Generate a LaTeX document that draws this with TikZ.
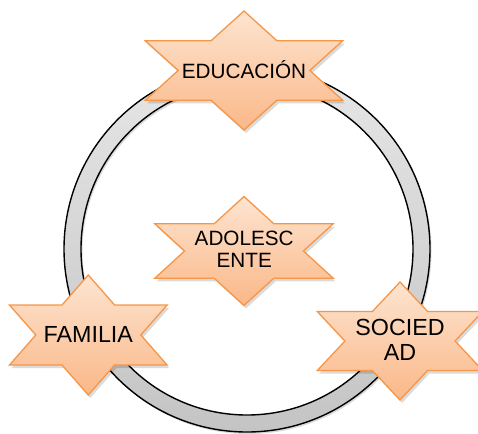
\documentclass[tikz,border=0pt]{standalone}
\usepackage{fontspec}
\setmainfont{Liberation Sans}
\definecolor{starline}{RGB}{247,150,70}
\definecolor{startop}{RGB}{253,228,208}
\definecolor{starbot}{RGB}{250,184,136}
\definecolor{ringtop}{RGB}{230,230,230}
\definecolor{ringbot}{RGB}{196,196,196}
\tikzset{
  starshape/.style={draw=starline, line width=1.3pt, line join=miter, top color=startop, bottom color=starbot},
  starshadow/.style={fill=black, opacity=0.14, shift={(2,3)}},
  smalltext/.style={font=\fontsize{20.7}{22}\selectfont, align=center, inner sep=0pt, text=black},
  bigtext/.style={font=\fontsize{23.3}{25}\selectfont, align=center, inner sep=0pt, text=black},
}
% #1 cx, #2 cy, #3 horizontal scale, #4 half height, #5 style
\newcommand\drawhexstar[5]{%
  \path[#5] (#1,{#2-#4}) -- ({#1+0.289*#3},{#2-0.5*#4}) -- ({#1+0.866*#3},{#2-0.5*#4})
    -- ({#1+0.577*#3},#2) -- ({#1+0.866*#3},{#2+0.5*#4}) -- ({#1+0.289*#3},{#2+0.5*#4})
    -- (#1,{#2+#4}) -- ({#1-0.289*#3},{#2+0.5*#4}) -- ({#1-0.866*#3},{#2+0.5*#4})
    -- ({#1-0.577*#3},#2) -- ({#1-0.866*#3},{#2-0.5*#4}) -- ({#1-0.289*#3},{#2-0.5*#4}) -- cycle;}
\begin{document}
\begin{tikzpicture}[x=1pt,y=-1pt]
\useasboundingbox (0,0) rectangle (478,433);
\clip (0,0) rectangle (478,433);
% ring
\fill[black, opacity=0.15, even odd rule, shift={(1.5,2)}] (247,249) circle[radius=183] (247,249) circle[radius=166];
\shade[even odd rule, top color=ringtop, bottom color=ringbot] (247,249) circle[radius=183] (247,249) circle[radius=166];
\draw[line width=1.4pt] (247,249) circle[radius=183];
\draw[line width=1.4pt] (247,249) circle[radius=166];
% stars
\drawhexstar{244}{70.5}{114}{59.5}{starshadow}
\drawhexstar{244}{70.5}{114}{59.5}{starshape}
\drawhexstar{244}{251}{103}{54.5}{starshadow}
\drawhexstar{244}{251}{103}{54.5}{starshape}
\drawhexstar{88.3}{335}{91}{60}{starshadow}
\drawhexstar{88.3}{335}{91}{60}{starshape}
\drawhexstar{400}{341}{95.5}{59}{starshadow}
\drawhexstar{400}{341}{95.5}{59}{starshape}
% texts
\node[smalltext, anchor=base] (edu) at (244,78.3) {EDUCACIÓN};
\node[smalltext] (ado) at (244.2,249.3) {ADOLESC\\ENTE};
\node[bigtext] (fam) at (88.3,334) {FAMILIA};
\node[bigtext] (soc) at (400,339.5) {SOCIED\\AD};
\end{tikzpicture}
\end{document}
